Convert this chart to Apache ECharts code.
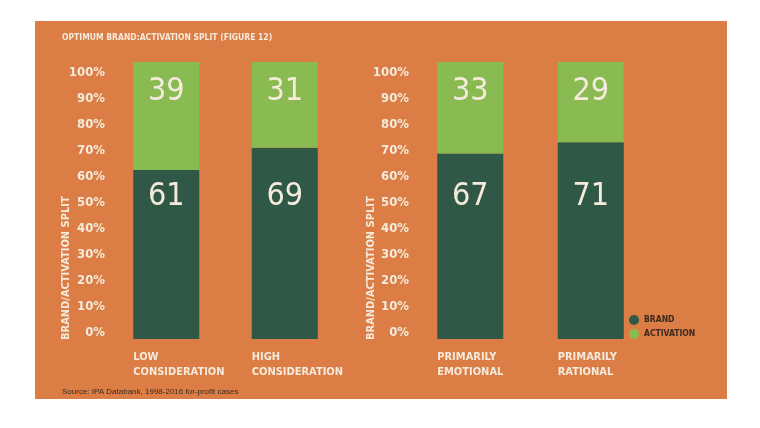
<!DOCTYPE html>
<html><head><meta charset="utf-8">
<script src="https://cdn.jsdelivr.net/npm/echarts@6/dist/echarts.min.js"></script>
<style>html,body{margin:0;padding:0;background:#fff}#c{width:760px;height:428px}</style>
</head><body><div id="c"></div>
<script>
const titleText = 'OPTIMUM BRAND:ACTIVATION SPLIT (FIGURE 12)';
const sourceText = 'Source: IPA Databank, 1998-2016 for-profit cases';
const axisTitle = 'BRAND/ACTIVATION SPLIT';
const leftCategories = ['LOW\nCONSIDERATION', 'HIGH\nCONSIDERATION'];
const rightCategories = ['PRIMARILY\nEMOTIONAL', 'PRIMARILY\nRATIONAL'];
const leftBrand = [61, 69];
const leftActivation = [39, 31];
const rightBrand = [67, 71];
const rightActivation = [33, 29];
const seriesNames = ['BRAND', 'ACTIVATION'];

const ORANGE = '#db7d45', DARK = '#2f5846', LIGHT = '#8aba52', CREAM = '#f5ebdc', INK = '#3a2a20';
const COND = "'DejaVu Sans Condensed',sans-serif";

const chart = echarts.init(document.getElementById('c'), null, {renderer: 'canvas'});

const grids = [
  {left: 107, width: 237, top: 62, height: 277},   // 0 left bars
  {left: 410, width: 241, top: 62, height: 277},   // 1 right bars
  {left: 74, width: 237, top: 62, height: 277},    // 2 left x labels
  {left: 377, width: 241, top: 62, height: 277},   // 3 right x labels
  {left: 113, width: 10, top: 73, height: 260},    // 4 left y labels
  {left: 417, width: 10, top: 73, height: 260}     // 5 right y labels
];

function hiddenCat(gi, data) {
  return {type: 'category', gridIndex: gi, data: data, axisLine: {show: false}, axisTick: {show: false}, axisLabel: {show: false}, splitLine: {show: false}};
}
function labelCat(gi, data) {
  return {type: 'category', gridIndex: gi, data: data, axisLine: {show: false}, axisTick: {show: false}, splitLine: {show: false},
    axisLabel: {show: true, align: 'left', margin: 11, color: CREAM, fontFamily: COND, fontWeight: 'bold', fontSize: 11, lineHeight: 15, interval: 0}};
}
function hiddenVal(gi) {
  return {type: 'value', gridIndex: gi, min: 0, max: 100, show: false, splitLine: {show: false}};
}
function labelVal(gi) {
  return {type: 'value', gridIndex: gi, min: 0, max: 100, interval: 10, axisLine: {show: false}, axisTick: {show: false}, splitLine: {show: false},
    axisLabel: {show: true, margin: 8, color: CREAM, fontFamily: COND, fontWeight: 'bold', fontSize: 13, formatter: '{value}%'}};
}

const xAxes = [hiddenCat(0, leftCategories), hiddenCat(1, rightCategories), labelCat(2, leftCategories), labelCat(3, rightCategories), hiddenCat(4, ['']), hiddenCat(5, [''])];
xAxes[4].show = false; xAxes[5].show = false;
const yAxes = [hiddenVal(0), hiddenVal(1), hiddenVal(2), hiddenVal(3), labelVal(4), labelVal(5)];

const topLabel = {show: true, position: 'insideTop', distance: 14, color: CREAM, fontFamily: COND, fontSize: 32};
const bottomLabel = {show: true, position: 'insideBottom', distance: 126, color: CREAM, fontFamily: COND, fontSize: 32};
function bar(name, axis, data, color, stack, label) {
  return {name: name, type: 'bar', stack: stack, xAxisIndex: axis, yAxisIndex: axis, data: data, barWidth: 66,
    itemStyle: {color: color}, label: label, emphasis: {disabled: true}, silent: true};
}

chart.setOption({
  animation: false,
  backgroundColor: '#ffffff',
  graphic: [
    {type: 'rect', z: -10, shape: {x: 35, y: 21, width: 692, height: 378}, style: {fill: ORANGE}},
    {type: 'text', left: 62, top: 33, style: {text: titleText, fill: CREAM, font: "bold 8.5px 'DejaVu Sans Condensed', sans-serif"}},
    {type: 'text', left: 62, top: 388, style: {text: sourceText, fill: INK, font: "8px 'Liberation Sans', Arial, sans-serif"}},
    {type: 'text', x: 61, y: 340, rotation: Math.PI / 2, style: {text: axisTitle, fill: CREAM, font: "bold 11px 'DejaVu Sans Condensed', sans-serif", textAlign: 'left', textVerticalAlign: 'top'}},
    {type: 'text', x: 366, y: 340, rotation: Math.PI / 2, style: {text: axisTitle, fill: CREAM, font: "bold 11px 'DejaVu Sans Condensed', sans-serif", textAlign: 'left', textVerticalAlign: 'top'}}
  ],
  legend: {data: seriesNames, orient: 'vertical', left: 629, top: 315, padding: 0, icon: 'circle', itemWidth: 10, itemHeight: 10, itemGap: 4,
    selectedMode: false, textStyle: {color: INK, fontFamily: COND, fontWeight: 'bold', fontSize: 8.5}},
  grid: grids,
  xAxis: xAxes,
  yAxis: yAxes,
  series: [
    bar(seriesNames[0], 0, leftBrand, DARK, 'l', bottomLabel),
    bar(seriesNames[1], 0, leftActivation, LIGHT, 'l', topLabel),
    bar(seriesNames[0], 1, rightBrand, DARK, 'r', bottomLabel),
    bar(seriesNames[1], 1, rightActivation, LIGHT, 'r', topLabel)
  ]
});
</script></body></html>
